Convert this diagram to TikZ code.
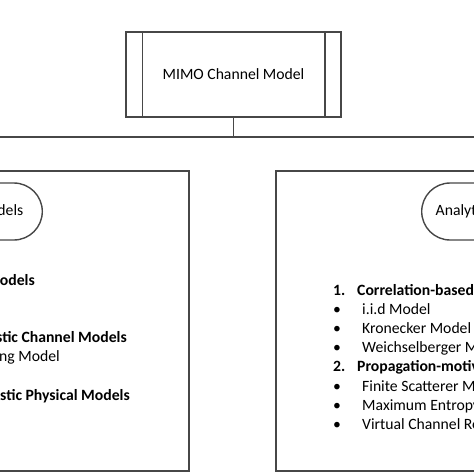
\documentclass[tikz,border=0pt]{standalone}
\usepackage{fontspec}
\setmainfont{Carlito}

\begin{document}
\begin{tikzpicture}[x=1pt, y=-1pt,
   every node/.style={font=\fontsize{15.7}{19.2}\selectfont, text=black},
   wire/.style={draw=black!72, line width=1.6pt},
   mimobox/.style={draw=black!72, line width=1.5pt, minimum width=215pt, minimum height=85pt},
   groupbox/.style={draw=black!72, line width=1.8pt, minimum width=430pt, minimum height=300pt},
   pill/.style={draw=black!72, line width=1.4pt, rounded corners=28.5pt,
                minimum height=57pt, inner xsep=16pt},
   head/.style={font=\fontsize{15.7}{19.2}\selectfont\bfseries, inner sep=0pt},
   item/.style={inner sep=0pt}]

\useasboundingbox (0,0) rectangle (474,474);
\clip (0,0) rectangle (474,474);

% top block
\node[mimobox] (mimo) at (233.5,74.5) {MIMO Channel Model};
\draw[wire, line width=1.5pt] ([xshift=17pt]mimo.north west) -- ([xshift=17pt]mimo.south west);
\draw[wire, line width=1.5pt] ([xshift=-17pt]mimo.north east) -- ([xshift=-17pt]mimo.south east);

% the two groups
\node[groupbox, anchor=north east] (physbox) at (190,170) {};
\node[groupbox, anchor=north west] (anabox) at (275,170) {};

\coordinate (bus) at (233.5,137);
\draw[wire] (mimo.south) -- (bus);
\draw[wire] (physbox.north) |- (bus) -| (anabox.north);

\node[pill, anchor=east, inner xsep=19pt] (physpill) at (43,211.5) {Physical Models};
\node[pill, anchor=west, inner xsep=14pt] (anapill) at (421,211.5) {Analytical Models};

% physical models list
\node[head, anchor=base east] (p0) at (35,285) {Deterministic Models};
\node[head, anchor=base east] (p3) at (127,342.6) {Geometry-based Stochastic Channel Models};
\node[item, anchor=base east] (p4) at (60,361.8) {One-Ring Model};
\node[head, anchor=base east] (p6) at (130,400.2) {Nongeometrical Stochastic Physical Models};

% analytical models list
\foreach \r/\num/\txt in {0/1./Correlation-based Models, 4/2./Propagation-motivated Models} {
  \node[head, anchor=base west] (n\r) at (333,295+19.2*\r) {\num};
  \node[head, anchor=base west] (a\r) at (357,295+19.2*\r) {\txt};
}
\foreach \r/\txt in {1/i.i.d Model, 2/Kronecker Model, 3/Weichselberger Model,
                     5/Finite Scatterer Model, 6/Maximum Entropy Model,
                     7/Virtual Channel Representation} {
  \node[item, anchor=base] (b\r) at (337,295+19.2*\r) {\textbullet};
  \node[item, anchor=base west] (a\r) at (362,295+19.2*\r) {\txt};
}

\end{tikzpicture}
\end{document}
